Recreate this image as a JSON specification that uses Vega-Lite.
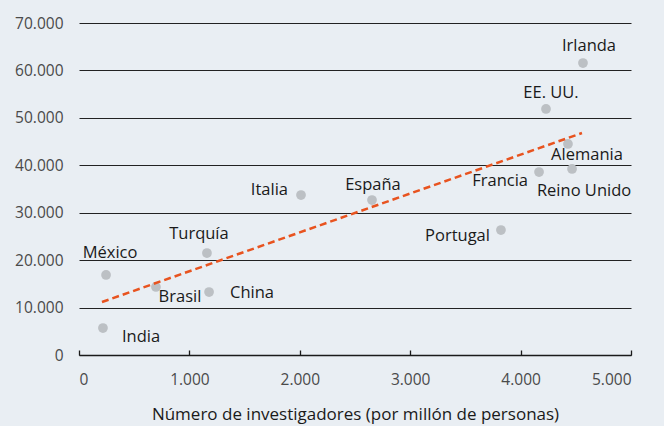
{
  "$schema": "https://vega.github.io/schema/vega-lite/v6.json",
  "width": 552,
  "height": 332,
  "autosize": "none",
  "padding": {"left": 79, "top": 23, "right": 33, "bottom": 71},
  "background": "#e9eef3",
  "config": {
    "view": {"stroke": null},
    "font": "Open Sans",
    "locale": {"number": {"decimal": ",", "thousands": ".", "grouping": [3], "currency": ["", " €"]}}
  },
  "datasets": {
    "paises": [
      {"pais": "Irlanda", "investigadores": 4565, "valor": 61560},
      {"pais": "EE. UU.", "investigadores": 4230, "valor": 51870},
      {"pais": "Alemania", "investigadores": 4429, "valor": 44490},
      {"pais": "Reino Unido", "investigadores": 4466, "valor": 39220},
      {"pais": "Francia", "investigadores": 4167, "valor": 38580},
      {"pais": "Portugal", "investigadores": 3822, "valor": 26350},
      {"pais": "España", "investigadores": 2654, "valor": 32680},
      {"pais": "Italia", "investigadores": 2011, "valor": 33730},
      {"pais": "Turquía", "investigadores": 1159, "valor": 21500},
      {"pais": "México", "investigadores": 245, "valor": 16870},
      {"pais": "Brasil", "investigadores": 697, "valor": 14340},
      {"pais": "China", "investigadores": 1178, "valor": 13280},
      {"pais": "India", "investigadores": 217, "valor": 5690}
    ],
    "tendencia": [
      {"investigadores": 208, "valor": 11170},
      {"investigadores": 4556, "valor": 46800}
    ]
  },
  "encoding": {
    "x": {"field": "investigadores", "type": "quantitative"},
    "y": {"field": "valor", "type": "quantitative"}
  },
  "layer": [
    {
      "data": {"name": "paises"},
      "mark": {"type": "point", "filled": true, "opacity": 1, "size": 95, "color": "#bcc0c4"},
      "encoding": {
        "x": {
          "field": "investigadores", "type": "quantitative",
          "scale": {"domain": [0, 5000], "nice": false},
          "axis": {
            "values": [0, 1000, 2000, 3000, 4000, 5000],
            "format": ",d",
            "grid": false,
            "domainColor": "#1a1a1a",
            "domainWidth": 1.3,
            "tickColor": "#1a1a1a",
            "tickSize": -5,
            "tickWidth": 1.3,
            "labelFontSize": 15.5,
            "labelColor": "#4a4a4a",
            "labelPadding": 22,
            "title": "Número de investigadores (por millón de personas)",
            "titleFontSize": 17,
            "titleFontWeight": "normal",
            "titleColor": "#1a1a1a",
            "titlePadding": 19
          }
        },
        "y": {
          "field": "valor", "type": "quantitative",
          "scale": {"domain": [0, 70000], "nice": false},
          "axis": {
            "values": [0, 10000, 20000, 30000, 40000, 50000, 60000, 70000],
            "format": ",d",
            "domain": false,
            "ticks": false,
            "grid": true,
            "gridColor": "#222222",
            "gridWidth": 1,
            "labelFontSize": 15.5,
            "labelColor": "#4a4a4a",
            "labelPadding": 16,
            "title": null
          }
        }
      }
    },
    {
      "data": {"name": "tendencia"},
      "mark": {"type": "line", "color": "#e8531f", "strokeWidth": 2.5, "strokeDash": [7, 4]},
      "encoding": {}
    },
    {"data": {"name": "paises"}, "transform": [{"filter": "datum.pais === 'Irlanda'"}], "mark": {"type": "text", "fontSize": 16.5, "color": "#1a1a1a", "dx": 6, "dy": -17}, "encoding": {"text": {"field": "pais"}}},
    {"data": {"name": "paises"}, "transform": [{"filter": "datum.pais === 'EE. UU.'"}], "mark": {"type": "text", "fontSize": 16.5, "color": "#1a1a1a", "dx": 5, "dy": -16}, "encoding": {"text": {"field": "pais"}}},
    {"data": {"name": "paises"}, "transform": [{"filter": "datum.pais === 'Alemania'"}], "mark": {"type": "text", "fontSize": 16.5, "color": "#1a1a1a", "dx": 19, "dy": 11}, "encoding": {"text": {"field": "pais"}}},
    {"data": {"name": "paises"}, "transform": [{"filter": "datum.pais === 'Reino Unido'"}], "mark": {"type": "text", "fontSize": 16.5, "color": "#1a1a1a", "dx": 12, "dy": 22}, "encoding": {"text": {"field": "pais"}}},
    {"data": {"name": "paises"}, "transform": [{"filter": "datum.pais === 'Francia'"}], "mark": {"type": "text", "fontSize": 16.5, "color": "#1a1a1a", "align": "right", "dx": -11, "dy": 9}, "encoding": {"text": {"field": "pais"}}},
    {"data": {"name": "paises"}, "transform": [{"filter": "datum.pais === 'Portugal'"}], "mark": {"type": "text", "fontSize": 16.5, "color": "#1a1a1a", "align": "right", "dx": -11, "dy": 6}, "encoding": {"text": {"field": "pais"}}},
    {"data": {"name": "paises"}, "transform": [{"filter": "datum.pais === 'España'"}], "mark": {"type": "text", "fontSize": 16.5, "color": "#1a1a1a", "dx": 1, "dy": -15}, "encoding": {"text": {"field": "pais"}}},
    {"data": {"name": "paises"}, "transform": [{"filter": "datum.pais === 'Italia'"}], "mark": {"type": "text", "fontSize": 16.5, "color": "#1a1a1a", "align": "right", "dx": -13, "dy": -5}, "encoding": {"text": {"field": "pais"}}},
    {"data": {"name": "paises"}, "transform": [{"filter": "datum.pais === 'Turquía'"}], "mark": {"type": "text", "fontSize": 16.5, "color": "#1a1a1a", "dx": -8, "dy": -19}, "encoding": {"text": {"field": "pais"}}},
    {"data": {"name": "paises"}, "transform": [{"filter": "datum.pais === 'México'"}], "mark": {"type": "text", "fontSize": 16.5, "color": "#1a1a1a", "dx": 4, "dy": -22}, "encoding": {"text": {"field": "pais"}}},
    {"data": {"name": "paises"}, "transform": [{"filter": "datum.pais === 'Brasil'"}], "mark": {"type": "text", "fontSize": 16.5, "color": "#1a1a1a", "dx": 24, "dy": 10}, "encoding": {"text": {"field": "pais"}}},
    {"data": {"name": "paises"}, "transform": [{"filter": "datum.pais === 'China'"}], "mark": {"type": "text", "fontSize": 16.5, "color": "#1a1a1a", "align": "left", "dx": 21, "dy": 1}, "encoding": {"text": {"field": "pais"}}},
    {"data": {"name": "paises"}, "transform": [{"filter": "datum.pais === 'India'"}], "mark": {"type": "text", "fontSize": 16.5, "color": "#1a1a1a", "align": "left", "dx": 19, "dy": 9}, "encoding": {"text": {"field": "pais"}}}
  ]
}
